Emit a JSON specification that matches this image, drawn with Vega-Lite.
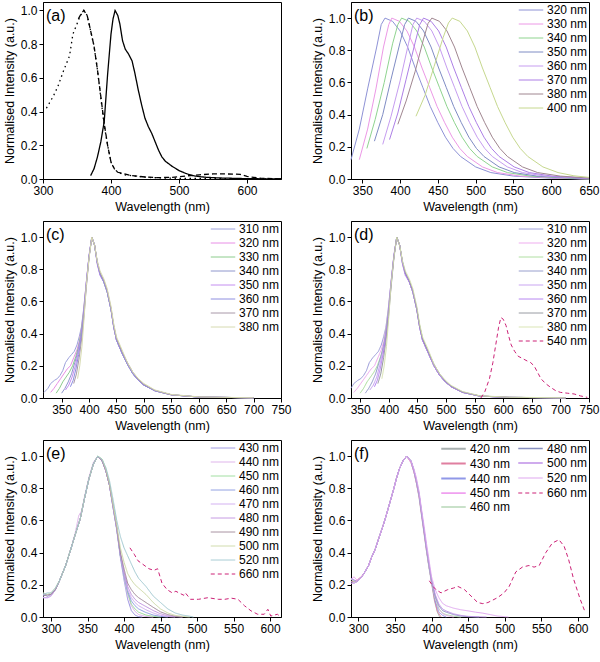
{
"$schema":"https://vega.github.io/schema/vega-lite/v6.json",
"background":"white",
"padding":{"left":2,"top":1,"right":2,"bottom":2},
"columns":2,
"spacing":{"row":7,"column":18},
"config":{
 "font":"Liberation Sans",
 "view":{"stroke":"black","strokeWidth":1},
 "axis":{"labelFontSize":12,"titleFontSize":12.5,"titleFontWeight":"normal","labelColor":"black","titleColor":"black","domainColor":"black","tickColor":"black","grid":false,"tickSize":4,"labelPadding":2,"titlePadding":4,"labelOverlap":false,"labelFlush":false,"labelBound":false},
 "legend":{"orient":"top-right","offset":0,"padding":1,"labelFontSize":12,"labelColor":"black","symbolType":"M-2,0H2","symbolSize":150,"symbolStrokeWidth":1.5,"rowPadding":1,"labelOffset":9,"columnPadding":4},
 "title":{"anchor":"start","frame":"group","orient":"top","offset":-22,"dx":3,"fontSize":16,"fontWeight":"normal","color":"black","baseline":"top"},
 "line":{"strokeWidth":1,"clip":true}
},
"resolve":{"scale":{"color":"independent","strokeDash":"independent","strokeWidth":"independent"}},
"datasets":{
"a":[
{"s":"em","x":370,"y":0.02},{"s":"em","x":375,"y":0.06},{"s":"em","x":380,"y":0.13},{"s":"em","x":385,"y":0.22},{"s":"em","x":390,"y":0.34},{"s":"em","x":395,"y":0.62},{"s":"em","x":400,"y":0.86},{"s":"em","x":403,"y":0.95},{"s":"em","x":406,"y":1},{"s":"em","x":410,"y":0.97},{"s":"em","x":413,"y":0.92},{"s":"em","x":417,"y":0.82},{"s":"em","x":421,"y":0.77},{"s":"em","x":426,"y":0.74},{"s":"em","x":431,"y":0.7},{"s":"em","x":435,"y":0.63},{"s":"em","x":440,"y":0.53},{"s":"em","x":445,"y":0.44},{"s":"em","x":450,"y":0.36},{"s":"em","x":455,"y":0.31},{"s":"em","x":460,"y":0.27},{"s":"em","x":465,"y":0.22},{"s":"em","x":470,"y":0.17},{"s":"em","x":475,"y":0.13},{"s":"em","x":480,"y":0.105},{"s":"em","x":490,"y":0.075},{"s":"em","x":500,"y":0.05},{"s":"em","x":510,"y":0.033},{"s":"em","x":520,"y":0.02},{"s":"em","x":530,"y":0.014},{"s":"em","x":540,"y":0.01},{"s":"em","x":560,"y":0.006},{"s":"em","x":600,"y":0.002},{"s":"em","x":650,"y":0},
{"s":"ex","x":305,"y":0.42},{"s":"ex","x":315,"y":0.49},{"s":"ex","x":322,"y":0.55},{"s":"ex","x":330,"y":0.64},{"s":"ex","x":339,"y":0.73},{"s":"ex","x":344,"y":0.86},{"s":"ex","x":350,"y":0.92},{"s":"ex","x":355,"y":0.97},{"s":"ex","x":360,"y":1},{"s":"ex","x":365,"y":0.97},{"s":"ex","x":370,"y":0.88},{"s":"ex","x":375,"y":0.79},{"s":"ex","x":380,"y":0.65},{"s":"ex","x":385,"y":0.48},{"s":"ex","x":390,"y":0.32},{"s":"ex","x":395,"y":0.2},{"s":"ex","x":400,"y":0.1},{"s":"ex","x":405,"y":0.06},{"s":"ex","x":410,"y":0.04},{"s":"ex","x":420,"y":0.025},{"s":"ex","x":440,"y":0.015},{"s":"ex","x":460,"y":0.008},{"s":"ex","x":500,"y":0.004},{"s":"ex","x":550,"y":0.003},{"s":"ex","x":600,"y":0.002},{"s":"ex","x":650,"y":0},
{"s":"ab","x":352,"y":0.95},{"s":"ab","x":356,"y":0.98},{"s":"ab","x":360,"y":1},{"s":"ab","x":365,"y":0.97},{"s":"ab","x":370,"y":0.88},{"s":"ab","x":375,"y":0.79},{"s":"ab","x":380,"y":0.65},{"s":"ab","x":385,"y":0.49},{"s":"ab","x":390,"y":0.33},{"s":"ab","x":395,"y":0.2},{"s":"ab","x":400,"y":0.1},{"s":"ab","x":405,"y":0.06},{"s":"ab","x":410,"y":0.04},{"s":"ab","x":420,"y":0.03},{"s":"ab","x":430,"y":0.02},{"s":"ab","x":450,"y":0.012},{"s":"ab","x":470,"y":0.008},{"s":"ab","x":490,"y":0.01},{"s":"ab","x":510,"y":0.018},{"s":"ab","x":530,"y":0.025},{"s":"ab","x":550,"y":0.03},{"s":"ab","x":570,"y":0.03},{"s":"ab","x":590,"y":0.028},{"s":"ab","x":600,"y":0.015},{"s":"ab","x":620,"y":0.005},{"s":"ab","x":650,"y":0}
],
"b":[
{"s":"320 nm","x":335,"y":0.12},{"s":"320 nm","x":346,"y":0.31},{"s":"320 nm","x":357,"y":0.56},{"s":"320 nm","x":369,"y":0.82},{"s":"320 nm","x":375,"y":0.96},{"s":"320 nm","x":380,"y":1},{"s":"320 nm","x":390,"y":0.98},{"s":"320 nm","x":400,"y":0.92},{"s":"320 nm","x":410,"y":0.82},{"s":"320 nm","x":420,"y":0.69},{"s":"320 nm","x":430,"y":0.57},{"s":"320 nm","x":440,"y":0.45},{"s":"320 nm","x":450,"y":0.35},{"s":"320 nm","x":460,"y":0.26},{"s":"320 nm","x":470,"y":0.19},{"s":"320 nm","x":480,"y":0.14},{"s":"320 nm","x":500,"y":0.075},{"s":"320 nm","x":520,"y":0.04},{"s":"320 nm","x":550,"y":0.018},{"s":"320 nm","x":600,"y":0.005},{"s":"320 nm","x":650,"y":0},
{"s":"330 nm","x":346,"y":0.12},{"s":"330 nm","x":357,"y":0.31},{"s":"330 nm","x":368,"y":0.56},{"s":"330 nm","x":378,"y":0.82},{"s":"330 nm","x":385,"y":0.96},{"s":"330 nm","x":389,"y":1},{"s":"330 nm","x":399,"y":0.98},{"s":"330 nm","x":409,"y":0.92},{"s":"330 nm","x":419,"y":0.82},{"s":"330 nm","x":429,"y":0.69},{"s":"330 nm","x":439,"y":0.57},{"s":"330 nm","x":449,"y":0.45},{"s":"330 nm","x":459,"y":0.35},{"s":"330 nm","x":469,"y":0.26},{"s":"330 nm","x":479,"y":0.19},{"s":"330 nm","x":489,"y":0.14},{"s":"330 nm","x":509,"y":0.075},{"s":"330 nm","x":529,"y":0.04},{"s":"330 nm","x":559,"y":0.018},{"s":"330 nm","x":609,"y":0.005},{"s":"330 nm","x":650,"y":0},
{"s":"340 nm","x":356,"y":0.19},{"s":"340 nm","x":367,"y":0.37},{"s":"340 nm","x":379,"y":0.6},{"s":"340 nm","x":390,"y":0.84},{"s":"340 nm","x":397,"y":0.96},{"s":"340 nm","x":402,"y":1},{"s":"340 nm","x":412,"y":0.98},{"s":"340 nm","x":422,"y":0.92},{"s":"340 nm","x":432,"y":0.82},{"s":"340 nm","x":442,"y":0.69},{"s":"340 nm","x":452,"y":0.57},{"s":"340 nm","x":462,"y":0.45},{"s":"340 nm","x":472,"y":0.35},{"s":"340 nm","x":482,"y":0.26},{"s":"340 nm","x":492,"y":0.19},{"s":"340 nm","x":502,"y":0.14},{"s":"340 nm","x":522,"y":0.075},{"s":"340 nm","x":542,"y":0.04},{"s":"340 nm","x":572,"y":0.018},{"s":"340 nm","x":622,"y":0.005},{"s":"340 nm","x":650,"y":0},
{"s":"350 nm","x":366,"y":0.235},{"s":"350 nm","x":377,"y":0.4},{"s":"350 nm","x":388,"y":0.62},{"s":"350 nm","x":400,"y":0.85},{"s":"350 nm","x":406,"y":0.96},{"s":"350 nm","x":411,"y":1},{"s":"350 nm","x":421,"y":0.98},{"s":"350 nm","x":431,"y":0.92},{"s":"350 nm","x":441,"y":0.82},{"s":"350 nm","x":451,"y":0.69},{"s":"350 nm","x":461,"y":0.57},{"s":"350 nm","x":471,"y":0.45},{"s":"350 nm","x":481,"y":0.35},{"s":"350 nm","x":491,"y":0.26},{"s":"350 nm","x":501,"y":0.19},{"s":"350 nm","x":511,"y":0.14},{"s":"350 nm","x":531,"y":0.075},{"s":"350 nm","x":551,"y":0.04},{"s":"350 nm","x":581,"y":0.018},{"s":"350 nm","x":631,"y":0.005},{"s":"350 nm","x":650,"y":0.002},
{"s":"360 nm","x":377,"y":0.215},{"s":"360 nm","x":388,"y":0.39},{"s":"360 nm","x":400,"y":0.61},{"s":"360 nm","x":411,"y":0.84},{"s":"360 nm","x":417,"y":0.96},{"s":"360 nm","x":422,"y":1},{"s":"360 nm","x":432,"y":0.98},{"s":"360 nm","x":442,"y":0.92},{"s":"360 nm","x":452,"y":0.82},{"s":"360 nm","x":462,"y":0.69},{"s":"360 nm","x":472,"y":0.57},{"s":"360 nm","x":482,"y":0.45},{"s":"360 nm","x":492,"y":0.35},{"s":"360 nm","x":502,"y":0.26},{"s":"360 nm","x":512,"y":0.19},{"s":"360 nm","x":522,"y":0.14},{"s":"360 nm","x":542,"y":0.075},{"s":"360 nm","x":562,"y":0.04},{"s":"360 nm","x":592,"y":0.018},{"s":"360 nm","x":642,"y":0.005},{"s":"360 nm","x":650,"y":0.003},
{"s":"370 nm","x":386,"y":0.245},{"s":"370 nm","x":397,"y":0.41},{"s":"370 nm","x":408,"y":0.62},{"s":"370 nm","x":420,"y":0.85},{"s":"370 nm","x":426,"y":0.96},{"s":"370 nm","x":431,"y":1},{"s":"370 nm","x":441,"y":0.98},{"s":"370 nm","x":451,"y":0.92},{"s":"370 nm","x":461,"y":0.82},{"s":"370 nm","x":471,"y":0.69},{"s":"370 nm","x":481,"y":0.57},{"s":"370 nm","x":491,"y":0.45},{"s":"370 nm","x":501,"y":0.35},{"s":"370 nm","x":511,"y":0.26},{"s":"370 nm","x":521,"y":0.19},{"s":"370 nm","x":531,"y":0.14},{"s":"370 nm","x":551,"y":0.075},{"s":"370 nm","x":571,"y":0.04},{"s":"370 nm","x":601,"y":0.018},{"s":"370 nm","x":650,"y":0.004},
{"s":"380 nm","x":397,"y":0.34},{"s":"380 nm","x":408,"y":0.485},{"s":"380 nm","x":420,"y":0.67},{"s":"380 nm","x":431,"y":0.87},{"s":"380 nm","x":437,"y":0.967},{"s":"380 nm","x":442,"y":1},{"s":"380 nm","x":452,"y":0.98},{"s":"380 nm","x":462,"y":0.92},{"s":"380 nm","x":472,"y":0.82},{"s":"380 nm","x":482,"y":0.69},{"s":"380 nm","x":492,"y":0.57},{"s":"380 nm","x":502,"y":0.45},{"s":"380 nm","x":512,"y":0.35},{"s":"380 nm","x":522,"y":0.26},{"s":"380 nm","x":532,"y":0.19},{"s":"380 nm","x":542,"y":0.14},{"s":"380 nm","x":562,"y":0.075},{"s":"380 nm","x":582,"y":0.04},{"s":"380 nm","x":612,"y":0.018},{"s":"380 nm","x":650,"y":0.006},
{"s":"400 nm","x":421,"y":0.39},{"s":"400 nm","x":433,"y":0.52},{"s":"400 nm","x":445,"y":0.7},{"s":"400 nm","x":457,"y":0.88},{"s":"400 nm","x":464,"y":0.97},{"s":"400 nm","x":469,"y":1},{"s":"400 nm","x":479,"y":0.98},{"s":"400 nm","x":489,"y":0.92},{"s":"400 nm","x":499,"y":0.82},{"s":"400 nm","x":509,"y":0.69},{"s":"400 nm","x":519,"y":0.57},{"s":"400 nm","x":529,"y":0.45},{"s":"400 nm","x":539,"y":0.35},{"s":"400 nm","x":549,"y":0.26},{"s":"400 nm","x":559,"y":0.19},{"s":"400 nm","x":569,"y":0.14},{"s":"400 nm","x":589,"y":0.075},{"s":"400 nm","x":609,"y":0.04},{"s":"400 nm","x":630,"y":0.02},{"s":"400 nm","x":650,"y":0.01}
],
"c":[
{"s":"310 nm","x":318,"y":0.035},{"s":"310 nm","x":325,"y":0.06},{"s":"310 nm","x":330,"y":0.09},{"s":"310 nm","x":337,"y":0.11},{"s":"310 nm","x":342,"y":0.12},{"s":"310 nm","x":347,"y":0.14},{"s":"310 nm","x":352,"y":0.17},{"s":"310 nm","x":357,"y":0.22},{"s":"310 nm","x":363,"y":0.25},{"s":"310 nm","x":368,"y":0.27},{"s":"310 nm","x":373,"y":0.29},{"s":"310 nm","x":378,"y":0.33},{"s":"310 nm","x":382,"y":0.38},{"s":"310 nm","x":386,"y":0.44},{"s":"310 nm","x":390,"y":0.55},{"s":"310 nm","x":395,"y":0.72},{"s":"310 nm","x":400,"y":0.88},{"s":"310 nm","x":405,"y":1},{"s":"310 nm","x":410,"y":0.95},{"s":"310 nm","x":415,"y":0.84},{"s":"310 nm","x":420,"y":0.77},{"s":"310 nm","x":427,"y":0.72},{"s":"310 nm","x":433,"y":0.66},{"s":"310 nm","x":440,"y":0.55},{"s":"310 nm","x":445,"y":0.44},{"s":"310 nm","x":450,"y":0.36},{"s":"310 nm","x":460,"y":0.28},{"s":"310 nm","x":470,"y":0.21},{"s":"310 nm","x":480,"y":0.15},{"s":"310 nm","x":490,"y":0.11},{"s":"310 nm","x":500,"y":0.08},{"s":"310 nm","x":520,"y":0.045},{"s":"310 nm","x":550,"y":0.02},{"s":"310 nm","x":600,"y":0.006},{"s":"310 nm","x":700,"y":0.001},
{"s":"320 nm","x":330,"y":0.035},{"s":"320 nm","x":336,"y":0.06},{"s":"320 nm","x":342,"y":0.09},{"s":"320 nm","x":348,"y":0.12},{"s":"320 nm","x":354,"y":0.15},{"s":"320 nm","x":360,"y":0.18},{"s":"320 nm","x":366,"y":0.2},{"s":"320 nm","x":372,"y":0.25},{"s":"320 nm","x":378,"y":0.3},{"s":"320 nm","x":382,"y":0.35},{"s":"320 nm","x":386,"y":0.43},{"s":"320 nm","x":390,"y":0.54},{"s":"320 nm","x":395,"y":0.72},{"s":"320 nm","x":400,"y":0.88},{"s":"320 nm","x":405,"y":1},{"s":"320 nm","x":410,"y":0.95},{"s":"320 nm","x":415,"y":0.84},{"s":"320 nm","x":420,"y":0.77},{"s":"320 nm","x":427,"y":0.73},{"s":"320 nm","x":433,"y":0.67},{"s":"320 nm","x":440,"y":0.55},{"s":"320 nm","x":445,"y":0.44},{"s":"320 nm","x":450,"y":0.36},{"s":"320 nm","x":460,"y":0.28},{"s":"320 nm","x":470,"y":0.21},{"s":"320 nm","x":480,"y":0.15},{"s":"320 nm","x":490,"y":0.11},{"s":"320 nm","x":500,"y":0.08},{"s":"320 nm","x":520,"y":0.045},{"s":"320 nm","x":550,"y":0.02},{"s":"320 nm","x":600,"y":0.006},{"s":"320 nm","x":700,"y":0.001},
{"s":"330 nm","x":340,"y":0.03},{"s":"330 nm","x":346,"y":0.06},{"s":"330 nm","x":352,"y":0.1},{"s":"330 nm","x":358,"y":0.13},{"s":"330 nm","x":364,"y":0.16},{"s":"330 nm","x":370,"y":0.2},{"s":"330 nm","x":376,"y":0.26},{"s":"330 nm","x":381,"y":0.32},{"s":"330 nm","x":386,"y":0.42},{"s":"330 nm","x":390,"y":0.53},{"s":"330 nm","x":395,"y":0.71},{"s":"330 nm","x":400,"y":0.88},{"s":"330 nm","x":405,"y":1},{"s":"330 nm","x":410,"y":0.95},{"s":"330 nm","x":415,"y":0.84},{"s":"330 nm","x":420,"y":0.77},{"s":"330 nm","x":427,"y":0.72},{"s":"330 nm","x":433,"y":0.66},{"s":"330 nm","x":440,"y":0.55},{"s":"330 nm","x":445,"y":0.45},{"s":"330 nm","x":450,"y":0.37},{"s":"330 nm","x":460,"y":0.28},{"s":"330 nm","x":470,"y":0.21},{"s":"330 nm","x":480,"y":0.15},{"s":"330 nm","x":490,"y":0.11},{"s":"330 nm","x":500,"y":0.08},{"s":"330 nm","x":520,"y":0.045},{"s":"330 nm","x":550,"y":0.02},{"s":"330 nm","x":600,"y":0.006},{"s":"330 nm","x":700,"y":0.001},
{"s":"340 nm","x":350,"y":0.03},{"s":"340 nm","x":356,"y":0.06},{"s":"340 nm","x":362,"y":0.1},{"s":"340 nm","x":368,"y":0.15},{"s":"340 nm","x":374,"y":0.22},{"s":"340 nm","x":379,"y":0.28},{"s":"340 nm","x":384,"y":0.36},{"s":"340 nm","x":388,"y":0.46},{"s":"340 nm","x":391,"y":0.55},{"s":"340 nm","x":395,"y":0.71},{"s":"340 nm","x":400,"y":0.88},{"s":"340 nm","x":405,"y":1},{"s":"340 nm","x":410,"y":0.95},{"s":"340 nm","x":415,"y":0.84},{"s":"340 nm","x":420,"y":0.77},{"s":"340 nm","x":427,"y":0.72},{"s":"340 nm","x":433,"y":0.66},{"s":"340 nm","x":440,"y":0.55},{"s":"340 nm","x":445,"y":0.44},{"s":"340 nm","x":450,"y":0.36},{"s":"340 nm","x":460,"y":0.28},{"s":"340 nm","x":470,"y":0.21},{"s":"340 nm","x":480,"y":0.15},{"s":"340 nm","x":490,"y":0.11},{"s":"340 nm","x":500,"y":0.08},{"s":"340 nm","x":520,"y":0.045},{"s":"340 nm","x":550,"y":0.02},{"s":"340 nm","x":600,"y":0.006},{"s":"340 nm","x":700,"y":0.001},
{"s":"350 nm","x":357,"y":0.05},{"s":"350 nm","x":363,"y":0.08},{"s":"350 nm","x":369,"y":0.13},{"s":"350 nm","x":375,"y":0.2},{"s":"350 nm","x":380,"y":0.28},{"s":"350 nm","x":385,"y":0.37},{"s":"350 nm","x":389,"y":0.48},{"s":"350 nm","x":392,"y":0.6},{"s":"350 nm","x":395,"y":0.72},{"s":"350 nm","x":400,"y":0.89},{"s":"350 nm","x":405,"y":1},{"s":"350 nm","x":410,"y":0.95},{"s":"350 nm","x":415,"y":0.83},{"s":"350 nm","x":420,"y":0.76},{"s":"350 nm","x":427,"y":0.72},{"s":"350 nm","x":433,"y":0.66},{"s":"350 nm","x":440,"y":0.55},{"s":"350 nm","x":445,"y":0.44},{"s":"350 nm","x":450,"y":0.36},{"s":"350 nm","x":460,"y":0.28},{"s":"350 nm","x":470,"y":0.21},{"s":"350 nm","x":480,"y":0.15},{"s":"350 nm","x":490,"y":0.11},{"s":"350 nm","x":500,"y":0.08},{"s":"350 nm","x":520,"y":0.045},{"s":"350 nm","x":550,"y":0.02},{"s":"350 nm","x":600,"y":0.006},{"s":"350 nm","x":700,"y":0.001},
{"s":"360 nm","x":366,"y":0.07},{"s":"360 nm","x":371,"y":0.11},{"s":"360 nm","x":376,"y":0.18},{"s":"360 nm","x":381,"y":0.27},{"s":"360 nm","x":386,"y":0.38},{"s":"360 nm","x":390,"y":0.5},{"s":"360 nm","x":393,"y":0.62},{"s":"360 nm","x":396,"y":0.74},{"s":"360 nm","x":400,"y":0.88},{"s":"360 nm","x":405,"y":1},{"s":"360 nm","x":410,"y":0.95},{"s":"360 nm","x":415,"y":0.84},{"s":"360 nm","x":420,"y":0.77},{"s":"360 nm","x":427,"y":0.72},{"s":"360 nm","x":433,"y":0.66},{"s":"360 nm","x":440,"y":0.55},{"s":"360 nm","x":445,"y":0.44},{"s":"360 nm","x":450,"y":0.36},{"s":"360 nm","x":460,"y":0.28},{"s":"360 nm","x":470,"y":0.21},{"s":"360 nm","x":480,"y":0.15},{"s":"360 nm","x":490,"y":0.11},{"s":"360 nm","x":500,"y":0.08},{"s":"360 nm","x":520,"y":0.045},{"s":"360 nm","x":550,"y":0.02},{"s":"360 nm","x":600,"y":0.006},{"s":"360 nm","x":700,"y":0.001},
{"s":"370 nm","x":372,"y":0.09},{"s":"370 nm","x":377,"y":0.15},{"s":"370 nm","x":382,"y":0.25},{"s":"370 nm","x":387,"y":0.38},{"s":"370 nm","x":391,"y":0.52},{"s":"370 nm","x":394,"y":0.65},{"s":"370 nm","x":397,"y":0.76},{"s":"370 nm","x":400,"y":0.87},{"s":"370 nm","x":405,"y":1},{"s":"370 nm","x":410,"y":0.95},{"s":"370 nm","x":415,"y":0.85},{"s":"370 nm","x":420,"y":0.78},{"s":"370 nm","x":427,"y":0.73},{"s":"370 nm","x":433,"y":0.67},{"s":"370 nm","x":440,"y":0.56},{"s":"370 nm","x":445,"y":0.45},{"s":"370 nm","x":450,"y":0.37},{"s":"370 nm","x":460,"y":0.29},{"s":"370 nm","x":470,"y":0.22},{"s":"370 nm","x":480,"y":0.16},{"s":"370 nm","x":490,"y":0.115},{"s":"370 nm","x":500,"y":0.085},{"s":"370 nm","x":520,"y":0.048},{"s":"370 nm","x":550,"y":0.02},{"s":"370 nm","x":600,"y":0.006},{"s":"370 nm","x":700,"y":0.001},
{"s":"380 nm","x":379,"y":0.12},{"s":"380 nm","x":383,"y":0.2},{"s":"380 nm","x":387,"y":0.32},{"s":"380 nm","x":391,"y":0.5},{"s":"380 nm","x":395,"y":0.7},{"s":"380 nm","x":400,"y":0.87},{"s":"380 nm","x":405,"y":1},{"s":"380 nm","x":410,"y":0.95},{"s":"380 nm","x":415,"y":0.85},{"s":"380 nm","x":420,"y":0.79},{"s":"380 nm","x":427,"y":0.74},{"s":"380 nm","x":433,"y":0.68},{"s":"380 nm","x":440,"y":0.57},{"s":"380 nm","x":445,"y":0.46},{"s":"380 nm","x":450,"y":0.38},{"s":"380 nm","x":460,"y":0.3},{"s":"380 nm","x":470,"y":0.22},{"s":"380 nm","x":480,"y":0.16},{"s":"380 nm","x":490,"y":0.12},{"s":"380 nm","x":500,"y":0.09},{"s":"380 nm","x":520,"y":0.05},{"s":"380 nm","x":550,"y":0.022},{"s":"380 nm","x":600,"y":0.007},{"s":"380 nm","x":700,"y":0.001}
],
"d":[
{"s":"310 nm","x":334,"y":0.06},{"s":"310 nm","x":339,"y":0.09},{"s":"310 nm","x":346,"y":0.11},{"s":"310 nm","x":351,"y":0.12},{"s":"310 nm","x":356,"y":0.14},{"s":"310 nm","x":361,"y":0.17},{"s":"310 nm","x":366,"y":0.22},{"s":"310 nm","x":372,"y":0.25},{"s":"310 nm","x":377,"y":0.27},{"s":"310 nm","x":382,"y":0.29},{"s":"310 nm","x":387,"y":0.33},{"s":"310 nm","x":391,"y":0.38},{"s":"310 nm","x":395,"y":0.44},{"s":"310 nm","x":399,"y":0.55},{"s":"310 nm","x":404,"y":0.72},{"s":"310 nm","x":409,"y":0.88},{"s":"310 nm","x":414,"y":1},{"s":"310 nm","x":419,"y":0.95},{"s":"310 nm","x":424,"y":0.84},{"s":"310 nm","x":429,"y":0.77},{"s":"310 nm","x":436,"y":0.72},{"s":"310 nm","x":442,"y":0.66},{"s":"310 nm","x":449,"y":0.55},{"s":"310 nm","x":454,"y":0.44},{"s":"310 nm","x":459,"y":0.36},{"s":"310 nm","x":469,"y":0.28},{"s":"310 nm","x":479,"y":0.2},{"s":"310 nm","x":489,"y":0.14},{"s":"310 nm","x":499,"y":0.1},{"s":"310 nm","x":509,"y":0.07},{"s":"310 nm","x":529,"y":0.035},{"s":"310 nm","x":559,"y":0.012},{"s":"310 nm","x":609,"y":0.004},{"s":"310 nm","x":709,"y":0.001},
{"s":"320 nm","x":339,"y":0.035},{"s":"320 nm","x":345,"y":0.06},{"s":"320 nm","x":351,"y":0.09},{"s":"320 nm","x":357,"y":0.12},{"s":"320 nm","x":363,"y":0.15},{"s":"320 nm","x":369,"y":0.18},{"s":"320 nm","x":375,"y":0.2},{"s":"320 nm","x":381,"y":0.25},{"s":"320 nm","x":387,"y":0.3},{"s":"320 nm","x":391,"y":0.35},{"s":"320 nm","x":395,"y":0.43},{"s":"320 nm","x":399,"y":0.54},{"s":"320 nm","x":404,"y":0.72},{"s":"320 nm","x":409,"y":0.88},{"s":"320 nm","x":414,"y":1},{"s":"320 nm","x":419,"y":0.95},{"s":"320 nm","x":424,"y":0.84},{"s":"320 nm","x":429,"y":0.77},{"s":"320 nm","x":436,"y":0.72},{"s":"320 nm","x":442,"y":0.66},{"s":"320 nm","x":449,"y":0.55},{"s":"320 nm","x":454,"y":0.44},{"s":"320 nm","x":459,"y":0.36},{"s":"320 nm","x":469,"y":0.28},{"s":"320 nm","x":479,"y":0.2},{"s":"320 nm","x":489,"y":0.14},{"s":"320 nm","x":499,"y":0.1},{"s":"320 nm","x":509,"y":0.07},{"s":"320 nm","x":529,"y":0.035},{"s":"320 nm","x":559,"y":0.012},{"s":"320 nm","x":609,"y":0.004},{"s":"320 nm","x":709,"y":0.001},
{"s":"330 nm","x":350,"y":0.03},{"s":"330 nm","x":356,"y":0.06},{"s":"330 nm","x":362,"y":0.1},{"s":"330 nm","x":368,"y":0.13},{"s":"330 nm","x":374,"y":0.16},{"s":"330 nm","x":380,"y":0.2},{"s":"330 nm","x":386,"y":0.26},{"s":"330 nm","x":391,"y":0.32},{"s":"330 nm","x":395,"y":0.42},{"s":"330 nm","x":399,"y":0.53},{"s":"330 nm","x":404,"y":0.71},{"s":"330 nm","x":409,"y":0.88},{"s":"330 nm","x":414,"y":1},{"s":"330 nm","x":419,"y":0.95},{"s":"330 nm","x":424,"y":0.84},{"s":"330 nm","x":429,"y":0.77},{"s":"330 nm","x":436,"y":0.72},{"s":"330 nm","x":442,"y":0.66},{"s":"330 nm","x":449,"y":0.55},{"s":"330 nm","x":454,"y":0.45},{"s":"330 nm","x":459,"y":0.37},{"s":"330 nm","x":469,"y":0.28},{"s":"330 nm","x":479,"y":0.2},{"s":"330 nm","x":489,"y":0.14},{"s":"330 nm","x":499,"y":0.1},{"s":"330 nm","x":509,"y":0.07},{"s":"330 nm","x":529,"y":0.035},{"s":"330 nm","x":559,"y":0.012},{"s":"330 nm","x":609,"y":0.004},{"s":"330 nm","x":709,"y":0.001},
{"s":"340 nm","x":359,"y":0.03},{"s":"340 nm","x":365,"y":0.06},{"s":"340 nm","x":371,"y":0.1},{"s":"340 nm","x":377,"y":0.15},{"s":"340 nm","x":383,"y":0.22},{"s":"340 nm","x":388,"y":0.28},{"s":"340 nm","x":393,"y":0.36},{"s":"340 nm","x":397,"y":0.46},{"s":"340 nm","x":400,"y":0.55},{"s":"340 nm","x":404,"y":0.71},{"s":"340 nm","x":409,"y":0.88},{"s":"340 nm","x":414,"y":1},{"s":"340 nm","x":419,"y":0.95},{"s":"340 nm","x":424,"y":0.84},{"s":"340 nm","x":429,"y":0.77},{"s":"340 nm","x":436,"y":0.72},{"s":"340 nm","x":442,"y":0.66},{"s":"340 nm","x":449,"y":0.55},{"s":"340 nm","x":454,"y":0.44},{"s":"340 nm","x":459,"y":0.36},{"s":"340 nm","x":469,"y":0.28},{"s":"340 nm","x":479,"y":0.2},{"s":"340 nm","x":489,"y":0.14},{"s":"340 nm","x":499,"y":0.1},{"s":"340 nm","x":509,"y":0.07},{"s":"340 nm","x":529,"y":0.035},{"s":"340 nm","x":559,"y":0.012},{"s":"340 nm","x":609,"y":0.004},{"s":"340 nm","x":709,"y":0.001},
{"s":"350 nm","x":367,"y":0.05},{"s":"350 nm","x":373,"y":0.08},{"s":"350 nm","x":379,"y":0.13},{"s":"350 nm","x":384,"y":0.2},{"s":"350 nm","x":389,"y":0.28},{"s":"350 nm","x":394,"y":0.37},{"s":"350 nm","x":398,"y":0.48},{"s":"350 nm","x":401,"y":0.6},{"s":"350 nm","x":404,"y":0.72},{"s":"350 nm","x":409,"y":0.89},{"s":"350 nm","x":414,"y":1},{"s":"350 nm","x":419,"y":0.95},{"s":"350 nm","x":424,"y":0.83},{"s":"350 nm","x":429,"y":0.76},{"s":"350 nm","x":436,"y":0.72},{"s":"350 nm","x":442,"y":0.66},{"s":"350 nm","x":449,"y":0.55},{"s":"350 nm","x":454,"y":0.44},{"s":"350 nm","x":459,"y":0.36},{"s":"350 nm","x":469,"y":0.28},{"s":"350 nm","x":479,"y":0.2},{"s":"350 nm","x":489,"y":0.14},{"s":"350 nm","x":499,"y":0.1},{"s":"350 nm","x":509,"y":0.07},{"s":"350 nm","x":529,"y":0.035},{"s":"350 nm","x":559,"y":0.012},{"s":"350 nm","x":609,"y":0.004},{"s":"350 nm","x":709,"y":0.001},
{"s":"360 nm","x":375,"y":0.07},{"s":"360 nm","x":380,"y":0.11},{"s":"360 nm","x":385,"y":0.18},{"s":"360 nm","x":390,"y":0.27},{"s":"360 nm","x":395,"y":0.38},{"s":"360 nm","x":399,"y":0.5},{"s":"360 nm","x":402,"y":0.62},{"s":"360 nm","x":405,"y":0.74},{"s":"360 nm","x":409,"y":0.88},{"s":"360 nm","x":414,"y":1},{"s":"360 nm","x":419,"y":0.95},{"s":"360 nm","x":424,"y":0.84},{"s":"360 nm","x":429,"y":0.77},{"s":"360 nm","x":436,"y":0.72},{"s":"360 nm","x":442,"y":0.66},{"s":"360 nm","x":449,"y":0.55},{"s":"360 nm","x":454,"y":0.44},{"s":"360 nm","x":459,"y":0.36},{"s":"360 nm","x":469,"y":0.28},{"s":"360 nm","x":479,"y":0.2},{"s":"360 nm","x":489,"y":0.14},{"s":"360 nm","x":499,"y":0.1},{"s":"360 nm","x":509,"y":0.07},{"s":"360 nm","x":529,"y":0.035},{"s":"360 nm","x":559,"y":0.012},{"s":"360 nm","x":609,"y":0.004},{"s":"360 nm","x":709,"y":0.001},
{"s":"370 nm","x":381,"y":0.09},{"s":"370 nm","x":386,"y":0.15},{"s":"370 nm","x":391,"y":0.25},{"s":"370 nm","x":396,"y":0.38},{"s":"370 nm","x":400,"y":0.52},{"s":"370 nm","x":403,"y":0.65},{"s":"370 nm","x":406,"y":0.76},{"s":"370 nm","x":409,"y":0.87},{"s":"370 nm","x":414,"y":1},{"s":"370 nm","x":419,"y":0.95},{"s":"370 nm","x":424,"y":0.85},{"s":"370 nm","x":429,"y":0.78},{"s":"370 nm","x":436,"y":0.73},{"s":"370 nm","x":442,"y":0.67},{"s":"370 nm","x":449,"y":0.56},{"s":"370 nm","x":454,"y":0.45},{"s":"370 nm","x":459,"y":0.37},{"s":"370 nm","x":469,"y":0.29},{"s":"370 nm","x":479,"y":0.21},{"s":"370 nm","x":489,"y":0.15},{"s":"370 nm","x":499,"y":0.105},{"s":"370 nm","x":509,"y":0.075},{"s":"370 nm","x":529,"y":0.038},{"s":"370 nm","x":559,"y":0.013},{"s":"370 nm","x":609,"y":0.004},{"s":"370 nm","x":709,"y":0.001},
{"s":"380 nm","x":388,"y":0.12},{"s":"380 nm","x":392,"y":0.2},{"s":"380 nm","x":396,"y":0.32},{"s":"380 nm","x":400,"y":0.5},{"s":"380 nm","x":404,"y":0.7},{"s":"380 nm","x":409,"y":0.87},{"s":"380 nm","x":414,"y":1},{"s":"380 nm","x":419,"y":0.95},{"s":"380 nm","x":424,"y":0.85},{"s":"380 nm","x":429,"y":0.79},{"s":"380 nm","x":436,"y":0.74},{"s":"380 nm","x":442,"y":0.68},{"s":"380 nm","x":449,"y":0.57},{"s":"380 nm","x":454,"y":0.46},{"s":"380 nm","x":459,"y":0.38},{"s":"380 nm","x":469,"y":0.3},{"s":"380 nm","x":479,"y":0.21},{"s":"380 nm","x":489,"y":0.15},{"s":"380 nm","x":499,"y":0.11},{"s":"380 nm","x":509,"y":0.078},{"s":"380 nm","x":529,"y":0.04},{"s":"380 nm","x":559,"y":0.014},{"s":"380 nm","x":609,"y":0.005},{"s":"380 nm","x":709,"y":0.001},
{"s":"540 nm","x":561,"y":0},{"s":"540 nm","x":568,"y":0.04},{"s":"540 nm","x":576,"y":0.12},{"s":"540 nm","x":582,"y":0.22},{"s":"540 nm","x":587,"y":0.33},{"s":"540 nm","x":592,"y":0.44},{"s":"540 nm","x":596,"y":0.5},{"s":"540 nm","x":600,"y":0.49},{"s":"540 nm","x":605,"y":0.45},{"s":"540 nm","x":610,"y":0.38},{"s":"540 nm","x":614,"y":0.33},{"s":"540 nm","x":620,"y":0.29},{"s":"540 nm","x":626,"y":0.26},{"s":"540 nm","x":634,"y":0.245},{"s":"540 nm","x":642,"y":0.23},{"s":"540 nm","x":648,"y":0.22},{"s":"540 nm","x":654,"y":0.2},{"s":"540 nm","x":660,"y":0.16},{"s":"540 nm","x":666,"y":0.12},{"s":"540 nm","x":674,"y":0.09},{"s":"540 nm","x":683,"y":0.066},{"s":"540 nm","x":692,"y":0.045},{"s":"540 nm","x":700,"y":0.035},{"s":"540 nm","x":712,"y":0.03},{"s":"540 nm","x":724,"y":0.025},{"s":"540 nm","x":735,"y":0.013},{"s":"540 nm","x":747,"y":0.004}
],
"e":[
{"s":"430 nm","x":289,"y":0.15},{"s":"430 nm","x":295,"y":0.13},{"s":"430 nm","x":300,"y":0.14},{"s":"430 nm","x":306,"y":0.17},{"s":"430 nm","x":312,"y":0.23},{"s":"430 nm","x":320,"y":0.32},{"s":"430 nm","x":327,"y":0.42},{"s":"430 nm","x":333,"y":0.51},{"s":"430 nm","x":340,"y":0.61},{"s":"430 nm","x":346,"y":0.74},{"s":"430 nm","x":352,"y":0.86},{"s":"430 nm","x":358,"y":0.95},{"s":"430 nm","x":364,"y":1},{"s":"430 nm","x":370,"y":0.97},{"s":"430 nm","x":375,"y":0.91},{"s":"430 nm","x":380,"y":0.82},{"s":"430 nm","x":385,"y":0.68},{"s":"430 nm","x":390,"y":0.54},{"s":"430 nm","x":395,"y":0.37},{"s":"430 nm","x":400,"y":0.23},{"s":"430 nm","x":405,"y":0.11},{"s":"430 nm","x":410,"y":0.04},{"s":"430 nm","x":415,"y":0.012},{"s":"430 nm","x":420,"y":0.002},{"s":"430 nm","x":425,"y":0},
{"s":"440 nm","x":289,"y":0.12},{"s":"440 nm","x":295,"y":0.12},{"s":"440 nm","x":300,"y":0.13},{"s":"440 nm","x":306,"y":0.17},{"s":"440 nm","x":312,"y":0.23},{"s":"440 nm","x":320,"y":0.32},{"s":"440 nm","x":327,"y":0.42},{"s":"440 nm","x":333,"y":0.52},{"s":"440 nm","x":338,"y":0.63},{"s":"440 nm","x":342,"y":0.66},{"s":"440 nm","x":346,"y":0.75},{"s":"440 nm","x":352,"y":0.87},{"s":"440 nm","x":358,"y":0.96},{"s":"440 nm","x":364,"y":1},{"s":"440 nm","x":370,"y":0.97},{"s":"440 nm","x":375,"y":0.91},{"s":"440 nm","x":380,"y":0.82},{"s":"440 nm","x":385,"y":0.68},{"s":"440 nm","x":390,"y":0.55},{"s":"440 nm","x":395,"y":0.38},{"s":"440 nm","x":400,"y":0.25},{"s":"440 nm","x":405,"y":0.14},{"s":"440 nm","x":410,"y":0.07},{"s":"440 nm","x":415,"y":0.035},{"s":"440 nm","x":420,"y":0.015},{"s":"440 nm","x":430,"y":0.003},{"s":"440 nm","x":440,"y":0},
{"s":"450 nm","x":289,"y":0.14},{"s":"450 nm","x":295,"y":0.13},{"s":"450 nm","x":300,"y":0.14},{"s":"450 nm","x":306,"y":0.17},{"s":"450 nm","x":312,"y":0.23},{"s":"450 nm","x":320,"y":0.32},{"s":"450 nm","x":327,"y":0.42},{"s":"450 nm","x":333,"y":0.51},{"s":"450 nm","x":340,"y":0.61},{"s":"450 nm","x":346,"y":0.74},{"s":"450 nm","x":352,"y":0.86},{"s":"450 nm","x":358,"y":0.95},{"s":"450 nm","x":364,"y":1},{"s":"450 nm","x":370,"y":0.98},{"s":"450 nm","x":375,"y":0.92},{"s":"450 nm","x":380,"y":0.83},{"s":"450 nm","x":385,"y":0.69},{"s":"450 nm","x":390,"y":0.55},{"s":"450 nm","x":395,"y":0.38},{"s":"450 nm","x":400,"y":0.26},{"s":"450 nm","x":405,"y":0.15},{"s":"450 nm","x":410,"y":0.08},{"s":"450 nm","x":415,"y":0.05},{"s":"450 nm","x":420,"y":0.03},{"s":"450 nm","x":430,"y":0.012},{"s":"450 nm","x":440,"y":0.004},{"s":"450 nm","x":450,"y":0},
{"s":"460 nm","x":289,"y":0.13},{"s":"460 nm","x":295,"y":0.14},{"s":"460 nm","x":300,"y":0.14},{"s":"460 nm","x":306,"y":0.17},{"s":"460 nm","x":312,"y":0.23},{"s":"460 nm","x":320,"y":0.32},{"s":"460 nm","x":327,"y":0.42},{"s":"460 nm","x":333,"y":0.51},{"s":"460 nm","x":340,"y":0.61},{"s":"460 nm","x":346,"y":0.74},{"s":"460 nm","x":352,"y":0.86},{"s":"460 nm","x":358,"y":0.95},{"s":"460 nm","x":364,"y":1},{"s":"460 nm","x":370,"y":0.97},{"s":"460 nm","x":375,"y":0.91},{"s":"460 nm","x":380,"y":0.82},{"s":"460 nm","x":385,"y":0.68},{"s":"460 nm","x":390,"y":0.55},{"s":"460 nm","x":395,"y":0.38},{"s":"460 nm","x":400,"y":0.26},{"s":"460 nm","x":405,"y":0.16},{"s":"460 nm","x":410,"y":0.1},{"s":"460 nm","x":415,"y":0.07},{"s":"460 nm","x":420,"y":0.05},{"s":"460 nm","x":430,"y":0.028},{"s":"460 nm","x":440,"y":0.012},{"s":"460 nm","x":450,"y":0.004},{"s":"460 nm","x":460,"y":0},
{"s":"470 nm","x":289,"y":0.12},{"s":"470 nm","x":295,"y":0.12},{"s":"470 nm","x":300,"y":0.13},{"s":"470 nm","x":306,"y":0.17},{"s":"470 nm","x":312,"y":0.23},{"s":"470 nm","x":320,"y":0.32},{"s":"470 nm","x":327,"y":0.42},{"s":"470 nm","x":333,"y":0.51},{"s":"470 nm","x":340,"y":0.61},{"s":"470 nm","x":346,"y":0.74},{"s":"470 nm","x":352,"y":0.86},{"s":"470 nm","x":358,"y":0.95},{"s":"470 nm","x":364,"y":1},{"s":"470 nm","x":370,"y":0.97},{"s":"470 nm","x":375,"y":0.91},{"s":"470 nm","x":380,"y":0.82},{"s":"470 nm","x":385,"y":0.68},{"s":"470 nm","x":390,"y":0.55},{"s":"470 nm","x":395,"y":0.39},{"s":"470 nm","x":400,"y":0.27},{"s":"470 nm","x":405,"y":0.17},{"s":"470 nm","x":410,"y":0.12},{"s":"470 nm","x":415,"y":0.09},{"s":"470 nm","x":420,"y":0.07},{"s":"470 nm","x":430,"y":0.045},{"s":"470 nm","x":440,"y":0.025},{"s":"470 nm","x":450,"y":0.01},{"s":"470 nm","x":460,"y":0.003},{"s":"470 nm","x":470,"y":0},
{"s":"480 nm","x":289,"y":0.14},{"s":"480 nm","x":295,"y":0.13},{"s":"480 nm","x":300,"y":0.14},{"s":"480 nm","x":306,"y":0.17},{"s":"480 nm","x":312,"y":0.23},{"s":"480 nm","x":320,"y":0.32},{"s":"480 nm","x":327,"y":0.42},{"s":"480 nm","x":333,"y":0.51},{"s":"480 nm","x":340,"y":0.61},{"s":"480 nm","x":346,"y":0.74},{"s":"480 nm","x":352,"y":0.86},{"s":"480 nm","x":358,"y":0.95},{"s":"480 nm","x":364,"y":1},{"s":"480 nm","x":370,"y":0.97},{"s":"480 nm","x":375,"y":0.91},{"s":"480 nm","x":380,"y":0.82},{"s":"480 nm","x":385,"y":0.69},{"s":"480 nm","x":390,"y":0.55},{"s":"480 nm","x":395,"y":0.39},{"s":"480 nm","x":400,"y":0.28},{"s":"480 nm","x":405,"y":0.19},{"s":"480 nm","x":410,"y":0.14},{"s":"480 nm","x":415,"y":0.11},{"s":"480 nm","x":420,"y":0.09},{"s":"480 nm","x":430,"y":0.065},{"s":"480 nm","x":440,"y":0.04},{"s":"480 nm","x":450,"y":0.02},{"s":"480 nm","x":460,"y":0.008},{"s":"480 nm","x":470,"y":0.002},{"s":"480 nm","x":480,"y":0},
{"s":"490 nm","x":289,"y":0.13},{"s":"490 nm","x":295,"y":0.14},{"s":"490 nm","x":300,"y":0.14},{"s":"490 nm","x":306,"y":0.17},{"s":"490 nm","x":312,"y":0.23},{"s":"490 nm","x":320,"y":0.32},{"s":"490 nm","x":327,"y":0.42},{"s":"490 nm","x":333,"y":0.51},{"s":"490 nm","x":340,"y":0.61},{"s":"490 nm","x":346,"y":0.74},{"s":"490 nm","x":352,"y":0.86},{"s":"490 nm","x":358,"y":0.95},{"s":"490 nm","x":364,"y":1},{"s":"490 nm","x":370,"y":0.97},{"s":"490 nm","x":375,"y":0.91},{"s":"490 nm","x":380,"y":0.82},{"s":"490 nm","x":385,"y":0.69},{"s":"490 nm","x":390,"y":0.56},{"s":"490 nm","x":395,"y":0.4},{"s":"490 nm","x":400,"y":0.3},{"s":"490 nm","x":405,"y":0.21},{"s":"490 nm","x":410,"y":0.17},{"s":"490 nm","x":415,"y":0.14},{"s":"490 nm","x":420,"y":0.12},{"s":"490 nm","x":430,"y":0.09},{"s":"490 nm","x":440,"y":0.06},{"s":"490 nm","x":450,"y":0.032},{"s":"490 nm","x":460,"y":0.015},{"s":"490 nm","x":470,"y":0.005},{"s":"490 nm","x":480,"y":0},
{"s":"500 nm","x":289,"y":0.15},{"s":"500 nm","x":295,"y":0.14},{"s":"500 nm","x":300,"y":0.15},{"s":"500 nm","x":306,"y":0.18},{"s":"500 nm","x":312,"y":0.23},{"s":"500 nm","x":320,"y":0.32},{"s":"500 nm","x":327,"y":0.42},{"s":"500 nm","x":333,"y":0.51},{"s":"500 nm","x":340,"y":0.61},{"s":"500 nm","x":346,"y":0.74},{"s":"500 nm","x":352,"y":0.86},{"s":"500 nm","x":358,"y":0.95},{"s":"500 nm","x":364,"y":1},{"s":"500 nm","x":370,"y":0.98},{"s":"500 nm","x":375,"y":0.92},{"s":"500 nm","x":380,"y":0.83},{"s":"500 nm","x":385,"y":0.7},{"s":"500 nm","x":390,"y":0.57},{"s":"500 nm","x":395,"y":0.43},{"s":"500 nm","x":400,"y":0.34},{"s":"500 nm","x":405,"y":0.27},{"s":"500 nm","x":410,"y":0.23},{"s":"500 nm","x":415,"y":0.2},{"s":"500 nm","x":420,"y":0.18},{"s":"500 nm","x":430,"y":0.14},{"s":"500 nm","x":440,"y":0.09},{"s":"500 nm","x":450,"y":0.05},{"s":"500 nm","x":460,"y":0.025},{"s":"500 nm","x":470,"y":0.01},{"s":"500 nm","x":480,"y":0.004},{"s":"500 nm","x":490,"y":0},
{"s":"520 nm","x":289,"y":0.14},{"s":"520 nm","x":295,"y":0.15},{"s":"520 nm","x":300,"y":0.15},{"s":"520 nm","x":306,"y":0.18},{"s":"520 nm","x":312,"y":0.23},{"s":"520 nm","x":320,"y":0.32},{"s":"520 nm","x":327,"y":0.42},{"s":"520 nm","x":333,"y":0.51},{"s":"520 nm","x":340,"y":0.61},{"s":"520 nm","x":346,"y":0.74},{"s":"520 nm","x":352,"y":0.86},{"s":"520 nm","x":358,"y":0.95},{"s":"520 nm","x":364,"y":1},{"s":"520 nm","x":370,"y":0.98},{"s":"520 nm","x":375,"y":0.93},{"s":"520 nm","x":380,"y":0.85},{"s":"520 nm","x":385,"y":0.73},{"s":"520 nm","x":390,"y":0.6},{"s":"520 nm","x":395,"y":0.5},{"s":"520 nm","x":400,"y":0.43},{"s":"520 nm","x":405,"y":0.38},{"s":"520 nm","x":410,"y":0.33},{"s":"520 nm","x":415,"y":0.28},{"s":"520 nm","x":420,"y":0.24},{"s":"520 nm","x":430,"y":0.19},{"s":"520 nm","x":440,"y":0.13},{"s":"520 nm","x":450,"y":0.09},{"s":"520 nm","x":460,"y":0.05},{"s":"520 nm","x":470,"y":0.025},{"s":"520 nm","x":480,"y":0.012},{"s":"520 nm","x":490,"y":0.005},{"s":"520 nm","x":495,"y":0},
{"s":"660 nm","x":408,"y":0.43},{"s":"660 nm","x":414,"y":0.39},{"s":"660 nm","x":419,"y":0.35},{"s":"660 nm","x":425,"y":0.33},{"s":"660 nm","x":434,"y":0.3},{"s":"660 nm","x":441,"y":0.29},{"s":"660 nm","x":446,"y":0.3},{"s":"660 nm","x":452,"y":0.21},{"s":"660 nm","x":459,"y":0.17},{"s":"660 nm","x":466,"y":0.15},{"s":"660 nm","x":471,"y":0.16},{"s":"660 nm","x":475,"y":0.15},{"s":"660 nm","x":482,"y":0.135},{"s":"660 nm","x":484,"y":0.15},{"s":"660 nm","x":491,"y":0.11},{"s":"660 nm","x":502,"y":0.11},{"s":"660 nm","x":515,"y":0.12},{"s":"660 nm","x":529,"y":0.11},{"s":"660 nm","x":538,"y":0.11},{"s":"660 nm","x":547,"y":0.117},{"s":"660 nm","x":556,"y":0.11},{"s":"660 nm","x":565,"y":0.07},{"s":"660 nm","x":574,"y":0.038},{"s":"660 nm","x":583,"y":0.017},{"s":"660 nm","x":592,"y":0.017},{"s":"660 nm","x":597,"y":0.048},{"s":"660 nm","x":601,"y":0.006},{"s":"660 nm","x":610,"y":0.017},{"s":"660 nm","x":615,"y":0}
],
"f":[
{"s":"420 nm","x":290,"y":0.235},{"s":"420 nm","x":294,"y":0.22},{"s":"420 nm","x":298,"y":0.22},{"s":"420 nm","x":304,"y":0.245},{"s":"420 nm","x":309,"y":0.28},{"s":"420 nm","x":314,"y":0.32},{"s":"420 nm","x":318,"y":0.37},{"s":"420 nm","x":323,"y":0.42},{"s":"420 nm","x":328,"y":0.49},{"s":"420 nm","x":334,"y":0.57},{"s":"420 nm","x":338,"y":0.63},{"s":"420 nm","x":343,"y":0.71},{"s":"420 nm","x":348,"y":0.79},{"s":"420 nm","x":352,"y":0.86},{"s":"420 nm","x":356,"y":0.92},{"s":"420 nm","x":361,"y":0.97},{"s":"420 nm","x":366,"y":1},{"s":"420 nm","x":372,"y":0.96},{"s":"420 nm","x":376,"y":0.9},{"s":"420 nm","x":379,"y":0.84},{"s":"420 nm","x":383,"y":0.74},{"s":"420 nm","x":386,"y":0.64},{"s":"420 nm","x":390,"y":0.51},{"s":"420 nm","x":393,"y":0.41},{"s":"420 nm","x":396,"y":0.32},{"s":"420 nm","x":400,"y":0.21},{"s":"420 nm","x":404,"y":0.1},{"s":"420 nm","x":408,"y":0.03},{"s":"420 nm","x":411,"y":0},
{"s":"430 nm","x":290,"y":0.22},{"s":"430 nm","x":294,"y":0.22},{"s":"430 nm","x":298,"y":0.23},{"s":"430 nm","x":304,"y":0.25},{"s":"430 nm","x":309,"y":0.28},{"s":"430 nm","x":314,"y":0.32},{"s":"430 nm","x":318,"y":0.37},{"s":"430 nm","x":323,"y":0.42},{"s":"430 nm","x":328,"y":0.49},{"s":"430 nm","x":334,"y":0.57},{"s":"430 nm","x":338,"y":0.63},{"s":"430 nm","x":343,"y":0.71},{"s":"430 nm","x":348,"y":0.79},{"s":"430 nm","x":352,"y":0.86},{"s":"430 nm","x":356,"y":0.92},{"s":"430 nm","x":361,"y":0.97},{"s":"430 nm","x":366,"y":1},{"s":"430 nm","x":372,"y":0.96},{"s":"430 nm","x":376,"y":0.9},{"s":"430 nm","x":379,"y":0.84},{"s":"430 nm","x":383,"y":0.75},{"s":"430 nm","x":386,"y":0.65},{"s":"430 nm","x":390,"y":0.52},{"s":"430 nm","x":393,"y":0.42},{"s":"430 nm","x":396,"y":0.33},{"s":"430 nm","x":400,"y":0.22},{"s":"430 nm","x":404,"y":0.11},{"s":"430 nm","x":408,"y":0.035},{"s":"430 nm","x":413,"y":0},
{"s":"440 nm","x":290,"y":0.24},{"s":"440 nm","x":294,"y":0.23},{"s":"440 nm","x":298,"y":0.22},{"s":"440 nm","x":304,"y":0.245},{"s":"440 nm","x":309,"y":0.28},{"s":"440 nm","x":314,"y":0.32},{"s":"440 nm","x":318,"y":0.37},{"s":"440 nm","x":323,"y":0.42},{"s":"440 nm","x":328,"y":0.49},{"s":"440 nm","x":334,"y":0.57},{"s":"440 nm","x":338,"y":0.63},{"s":"440 nm","x":343,"y":0.71},{"s":"440 nm","x":348,"y":0.79},{"s":"440 nm","x":352,"y":0.86},{"s":"440 nm","x":356,"y":0.92},{"s":"440 nm","x":361,"y":0.97},{"s":"440 nm","x":366,"y":1},{"s":"440 nm","x":372,"y":0.97},{"s":"440 nm","x":376,"y":0.91},{"s":"440 nm","x":379,"y":0.85},{"s":"440 nm","x":383,"y":0.76},{"s":"440 nm","x":386,"y":0.66},{"s":"440 nm","x":390,"y":0.53},{"s":"440 nm","x":393,"y":0.43},{"s":"440 nm","x":396,"y":0.33},{"s":"440 nm","x":400,"y":0.22},{"s":"440 nm","x":405,"y":0.1},{"s":"440 nm","x":410,"y":0.03},{"s":"440 nm","x":415,"y":0.01},{"s":"440 nm","x":420,"y":0},
{"s":"450 nm","x":290,"y":0.23},{"s":"450 nm","x":294,"y":0.25},{"s":"450 nm","x":298,"y":0.23},{"s":"450 nm","x":304,"y":0.245},{"s":"450 nm","x":309,"y":0.28},{"s":"450 nm","x":314,"y":0.32},{"s":"450 nm","x":318,"y":0.37},{"s":"450 nm","x":323,"y":0.42},{"s":"450 nm","x":328,"y":0.49},{"s":"450 nm","x":334,"y":0.57},{"s":"450 nm","x":338,"y":0.63},{"s":"450 nm","x":343,"y":0.71},{"s":"450 nm","x":348,"y":0.79},{"s":"450 nm","x":352,"y":0.86},{"s":"450 nm","x":356,"y":0.92},{"s":"450 nm","x":361,"y":0.97},{"s":"450 nm","x":366,"y":1},{"s":"450 nm","x":372,"y":0.96},{"s":"450 nm","x":376,"y":0.9},{"s":"450 nm","x":379,"y":0.84},{"s":"450 nm","x":383,"y":0.75},{"s":"450 nm","x":386,"y":0.65},{"s":"450 nm","x":390,"y":0.52},{"s":"450 nm","x":393,"y":0.42},{"s":"450 nm","x":396,"y":0.33},{"s":"450 nm","x":400,"y":0.22},{"s":"450 nm","x":405,"y":0.12},{"s":"450 nm","x":410,"y":0.05},{"s":"450 nm","x":415,"y":0.02},{"s":"450 nm","x":420,"y":0.01},{"s":"450 nm","x":430,"y":0},
{"s":"460 nm","x":290,"y":0.235},{"s":"460 nm","x":294,"y":0.22},{"s":"460 nm","x":298,"y":0.22},{"s":"460 nm","x":304,"y":0.245},{"s":"460 nm","x":309,"y":0.28},{"s":"460 nm","x":314,"y":0.32},{"s":"460 nm","x":318,"y":0.37},{"s":"460 nm","x":323,"y":0.42},{"s":"460 nm","x":328,"y":0.49},{"s":"460 nm","x":334,"y":0.57},{"s":"460 nm","x":338,"y":0.63},{"s":"460 nm","x":343,"y":0.71},{"s":"460 nm","x":348,"y":0.79},{"s":"460 nm","x":352,"y":0.86},{"s":"460 nm","x":356,"y":0.92},{"s":"460 nm","x":361,"y":0.97},{"s":"460 nm","x":366,"y":1},{"s":"460 nm","x":372,"y":0.97},{"s":"460 nm","x":376,"y":0.91},{"s":"460 nm","x":379,"y":0.85},{"s":"460 nm","x":383,"y":0.76},{"s":"460 nm","x":386,"y":0.66},{"s":"460 nm","x":390,"y":0.53},{"s":"460 nm","x":393,"y":0.43},{"s":"460 nm","x":396,"y":0.33},{"s":"460 nm","x":400,"y":0.22},{"s":"460 nm","x":405,"y":0.12},{"s":"460 nm","x":410,"y":0.05},{"s":"460 nm","x":415,"y":0.025},{"s":"460 nm","x":420,"y":0.015},{"s":"460 nm","x":430,"y":0.005},{"s":"460 nm","x":440,"y":0},
{"s":"480 nm","x":290,"y":0.22},{"s":"480 nm","x":294,"y":0.21},{"s":"480 nm","x":298,"y":0.22},{"s":"480 nm","x":304,"y":0.245},{"s":"480 nm","x":309,"y":0.28},{"s":"480 nm","x":314,"y":0.32},{"s":"480 nm","x":318,"y":0.37},{"s":"480 nm","x":323,"y":0.42},{"s":"480 nm","x":328,"y":0.49},{"s":"480 nm","x":334,"y":0.57},{"s":"480 nm","x":338,"y":0.63},{"s":"480 nm","x":343,"y":0.71},{"s":"480 nm","x":348,"y":0.79},{"s":"480 nm","x":352,"y":0.86},{"s":"480 nm","x":356,"y":0.92},{"s":"480 nm","x":361,"y":0.97},{"s":"480 nm","x":366,"y":1},{"s":"480 nm","x":372,"y":0.97},{"s":"480 nm","x":376,"y":0.91},{"s":"480 nm","x":379,"y":0.85},{"s":"480 nm","x":383,"y":0.76},{"s":"480 nm","x":386,"y":0.66},{"s":"480 nm","x":390,"y":0.53},{"s":"480 nm","x":393,"y":0.43},{"s":"480 nm","x":396,"y":0.34},{"s":"480 nm","x":400,"y":0.23},{"s":"480 nm","x":405,"y":0.13},{"s":"480 nm","x":410,"y":0.07},{"s":"480 nm","x":415,"y":0.04},{"s":"480 nm","x":420,"y":0.03},{"s":"480 nm","x":430,"y":0.015},{"s":"480 nm","x":440,"y":0.006},{"s":"480 nm","x":450,"y":0.002},{"s":"480 nm","x":465,"y":0},
{"s":"500 nm","x":290,"y":0.24},{"s":"500 nm","x":294,"y":0.23},{"s":"500 nm","x":298,"y":0.22},{"s":"500 nm","x":304,"y":0.245},{"s":"500 nm","x":309,"y":0.28},{"s":"500 nm","x":314,"y":0.32},{"s":"500 nm","x":318,"y":0.37},{"s":"500 nm","x":323,"y":0.42},{"s":"500 nm","x":328,"y":0.49},{"s":"500 nm","x":334,"y":0.57},{"s":"500 nm","x":338,"y":0.63},{"s":"500 nm","x":343,"y":0.71},{"s":"500 nm","x":348,"y":0.79},{"s":"500 nm","x":352,"y":0.86},{"s":"500 nm","x":356,"y":0.92},{"s":"500 nm","x":361,"y":0.97},{"s":"500 nm","x":366,"y":1},{"s":"500 nm","x":372,"y":0.97},{"s":"500 nm","x":376,"y":0.91},{"s":"500 nm","x":379,"y":0.86},{"s":"500 nm","x":383,"y":0.77},{"s":"500 nm","x":386,"y":0.67},{"s":"500 nm","x":390,"y":0.54},{"s":"500 nm","x":393,"y":0.44},{"s":"500 nm","x":396,"y":0.35},{"s":"500 nm","x":400,"y":0.23},{"s":"500 nm","x":405,"y":0.14},{"s":"500 nm","x":410,"y":0.08},{"s":"500 nm","x":415,"y":0.05},{"s":"500 nm","x":420,"y":0.037},{"s":"500 nm","x":430,"y":0.02},{"s":"500 nm","x":440,"y":0.01},{"s":"500 nm","x":450,"y":0.004},{"s":"500 nm","x":460,"y":0.002},{"s":"500 nm","x":475,"y":0},
{"s":"520 nm","x":290,"y":0.21},{"s":"520 nm","x":294,"y":0.21},{"s":"520 nm","x":298,"y":0.22},{"s":"520 nm","x":304,"y":0.245},{"s":"520 nm","x":309,"y":0.28},{"s":"520 nm","x":314,"y":0.32},{"s":"520 nm","x":318,"y":0.37},{"s":"520 nm","x":323,"y":0.42},{"s":"520 nm","x":328,"y":0.49},{"s":"520 nm","x":334,"y":0.57},{"s":"520 nm","x":338,"y":0.63},{"s":"520 nm","x":343,"y":0.71},{"s":"520 nm","x":348,"y":0.79},{"s":"520 nm","x":352,"y":0.86},{"s":"520 nm","x":356,"y":0.92},{"s":"520 nm","x":361,"y":0.97},{"s":"520 nm","x":366,"y":1},{"s":"520 nm","x":372,"y":0.97},{"s":"520 nm","x":376,"y":0.92},{"s":"520 nm","x":379,"y":0.87},{"s":"520 nm","x":383,"y":0.78},{"s":"520 nm","x":386,"y":0.68},{"s":"520 nm","x":390,"y":0.56},{"s":"520 nm","x":393,"y":0.46},{"s":"520 nm","x":396,"y":0.37},{"s":"520 nm","x":400,"y":0.25},{"s":"520 nm","x":405,"y":0.17},{"s":"520 nm","x":410,"y":0.12},{"s":"520 nm","x":415,"y":0.085},{"s":"520 nm","x":420,"y":0.07},{"s":"520 nm","x":430,"y":0.055},{"s":"520 nm","x":440,"y":0.045},{"s":"520 nm","x":450,"y":0.038},{"s":"520 nm","x":460,"y":0.03},{"s":"520 nm","x":470,"y":0.024},{"s":"520 nm","x":480,"y":0.015},{"s":"520 nm","x":490,"y":0.006},{"s":"520 nm","x":500,"y":0.002},{"s":"520 nm","x":505,"y":0},
{"s":"660 nm","x":397,"y":0.225},{"s":"660 nm","x":402,"y":0.19},{"s":"660 nm","x":406,"y":0.17},{"s":"660 nm","x":413,"y":0.15},{"s":"660 nm","x":422,"y":0.17},{"s":"660 nm","x":430,"y":0.18},{"s":"660 nm","x":436,"y":0.19},{"s":"660 nm","x":445,"y":0.17},{"s":"660 nm","x":454,"y":0.13},{"s":"660 nm","x":463,"y":0.09},{"s":"660 nm","x":470,"y":0.083},{"s":"660 nm","x":477,"y":0.09},{"s":"660 nm","x":490,"y":0.12},{"s":"660 nm","x":499,"y":0.15},{"s":"660 nm","x":506,"y":0.19},{"s":"660 nm","x":515,"y":0.28},{"s":"660 nm","x":524,"y":0.31},{"s":"660 nm","x":533,"y":0.32},{"s":"660 nm","x":540,"y":0.31},{"s":"660 nm","x":547,"y":0.32},{"s":"660 nm","x":556,"y":0.4},{"s":"660 nm","x":565,"y":0.46},{"s":"660 nm","x":574,"y":0.48},{"s":"660 nm","x":581,"y":0.44},{"s":"660 nm","x":587,"y":0.36},{"s":"660 nm","x":594,"y":0.235},{"s":"660 nm","x":603,"y":0.11},{"s":"660 nm","x":610,"y":0.027}
]
},
"concat":[
{"width":238,"height":177,"title":{"text":"(a)"},"data":{"name":"a"},"mark":{"type":"line","strokeWidth":1.3},
  "encoding":{
   "x":{"field":"x","type":"quantitative","scale":{"domain":[300,650],"nice":false},"axis":{"title":"Wavelength (nm)","values":[300,400,500,600],"labelOverlap":false}},
   "y":{"field":"y","type":"quantitative","scale":{"domain":[0,1.05],"nice":false},"axis":{"title":"Normalised Intensity (a.u.)","values":[0,0.2,0.4,0.6,0.8,1.0],"format":".1f","labelOverlap":false}},
   "color":{"value":"black"},
   "strokeDash":{"field":"s","type":"nominal","scale":{"domain":["em","ex","ab"],"range":[[1,0],[1.5,3.5],[5,3]]},"legend":null}}},
{"width":238,"height":177,"title":{"text":"(b)"},"data":{"name":"b"},"mark":{"type":"line"},
  "encoding":{
   "x":{"field":"x","type":"quantitative","scale":{"domain":[335,650],"nice":false},"axis":{"title":"Wavelength (nm)","values":[350,400,450,500,550,600,650],"labelOverlap":false}},
   "y":{"field":"y","type":"quantitative","scale":{"domain":[0,1.1],"nice":false},"axis":{"title":"Normalised Intensity (a.u.)","values":[0,0.2,0.4,0.6,0.8,1.0],"format":".1f","labelOverlap":false}},
   "color":{"field":"s","type":"nominal","scale":{"domain":["320 nm","330 nm","340 nm","350 nm","360 nm","370 nm","380 nm","400 nm"],"range":["#8e92d6","#ec98e6","#8fd48f","#7f8cc4","#c69df0","#ad7fe6","#a08690","#c6d88e"]},"legend":{"title":null}}}},
{"width":238,"height":177,"title":{"text":"(c)"},"data":{"name":"c"},"mark":{"type":"line"},
  "encoding":{
   "x":{"field":"x","type":"quantitative","scale":{"domain":[316,750],"nice":false},"axis":{"title":"Wavelength (nm)","values":[350,400,450,500,550,600,650,700,750],"labelOverlap":false}},
   "y":{"field":"y","type":"quantitative","scale":{"domain":[0,1.1],"nice":false},"axis":{"title":"Normalised Intensity (a.u.)","values":[0,0.2,0.4,0.6,0.8,1.0],"format":".1f","labelOverlap":false}},
   "color":{"field":"s","type":"nominal","scale":{"domain":["310 nm","320 nm","330 nm","340 nm","350 nm","360 nm","370 nm","380 nm"],"range":["#9ea2dc","#e88ee6","#8ccc8c","#8e96cc","#c48ef0","#8e8ee0","#a898a8","#d6dab0"]},"legend":{"title":null}}}},
{"width":238,"height":177,"title":{"text":"(d)"},"data":{"name":"d"},"mark":{"type":"line"},
  "encoding":{
   "x":{"field":"x","type":"quantitative","scale":{"domain":[334,750],"nice":false},"axis":{"title":"Wavelength (nm)","values":[350,400,450,500,550,600,650,700,750],"labelOverlap":false}},
   "y":{"field":"y","type":"quantitative","scale":{"domain":[0,1.1],"nice":false},"axis":{"title":"Normalised Intensity (a.u.)","values":[0,0.2,0.4,0.6,0.8,1.0],"format":".1f","labelOverlap":false}},
   "color":{"field":"s","type":"nominal","scale":{"domain":["310 nm","320 nm","330 nm","340 nm","350 nm","360 nm","370 nm","380 nm","540 nm"],"range":["#9898d8","#eea4ee","#a8dc98","#8e96c8","#c49cf0","#b07cf0","#8e9098","#d6e2ae","#cc2277"]},"legend":{"title":null}},
   "strokeDash":{"field":"s","type":"nominal","scale":{"domain":["310 nm","320 nm","330 nm","340 nm","350 nm","360 nm","370 nm","380 nm","540 nm"],"range":[[1,0],[1,0],[1,0],[1,0],[1,0],[1,0],[1,0],[1,0],[4,3]]},"legend":{"title":null}}}},
{"width":238,"height":177,"title":{"text":"(e)"},"data":{"name":"e"},"mark":{"type":"line"},
  "encoding":{
   "x":{"field":"x","type":"quantitative","scale":{"domain":[289,615],"nice":false},"axis":{"title":"Wavelength (nm)","values":[300,350,400,450,500,550,600],"labelOverlap":false}},
   "y":{"field":"y","type":"quantitative","scale":{"domain":[0,1.1],"nice":false},"axis":{"title":"Normalised Intensity (a.u.)","values":[0,0.2,0.4,0.6,0.8,1.0],"format":".1f","labelOverlap":false}},
   "color":{"field":"s","type":"nominal","scale":{"domain":["430 nm","440 nm","450 nm","460 nm","470 nm","480 nm","490 nm","500 nm","520 nm","660 nm"],"range":["#9890e0","#dcaee8","#98dc98","#8898e0","#ceaaf0","#c090e0","#a08898","#ccd8a4","#a0c8d0","#cc2277"]},"legend":{"title":null}},
   "strokeDash":{"field":"s","type":"nominal","scale":{"domain":["430 nm","440 nm","450 nm","460 nm","470 nm","480 nm","490 nm","500 nm","520 nm","660 nm"],"range":[[1,0],[1,0],[1,0],[1,0],[1,0],[1,0],[1,0],[1,0],[1,0],[4,3]]},"legend":{"title":null}}}},
{"width":238,"height":177,"title":{"text":"(f)"},"data":{"name":"f"},"mark":{"type":"line"},
  "encoding":{
   "x":{"field":"x","type":"quantitative","scale":{"domain":[290,615],"nice":false},"axis":{"title":"Wavelength (nm)","values":[300,350,400,450,500,550,600],"labelOverlap":false}},
   "y":{"field":"y","type":"quantitative","scale":{"domain":[0,1.1],"nice":false},"axis":{"title":"Normalised Intensity (a.u.)","values":[0,0.2,0.4,0.6,0.8,1.0],"format":".1f","labelOverlap":false}},
   "color":{"field":"s","type":"nominal","scale":{"domain":["420 nm","430 nm","440 nm","450 nm","460 nm","480 nm","500 nm","520 nm","660 nm"],"range":["#a8b0b0","#e07fa0","#9098e8","#f0a0f0","#b8d8b8","#8890c0","#c090e8","#e0a8f0","#cc2277"]},"legend":{"title":null,"columns":2}},
   "strokeDash":{"field":"s","type":"nominal","scale":{"domain":["420 nm","430 nm","440 nm","450 nm","460 nm","480 nm","500 nm","520 nm","660 nm"],"range":[[1,0],[1,0],[1,0],[1,0],[1,0],[1,0],[1,0],[1,0],[4,3]]},"legend":{"title":null,"columns":2}},
   "strokeWidth":{"field":"s","type":"nominal","scale":{"domain":["420 nm","430 nm","440 nm","450 nm","460 nm","480 nm","500 nm","520 nm","660 nm"],"range":[2.2,1,1,1,1,1,1,2,1.5]},"legend":{"title":null,"columns":2}}}}
]
}
